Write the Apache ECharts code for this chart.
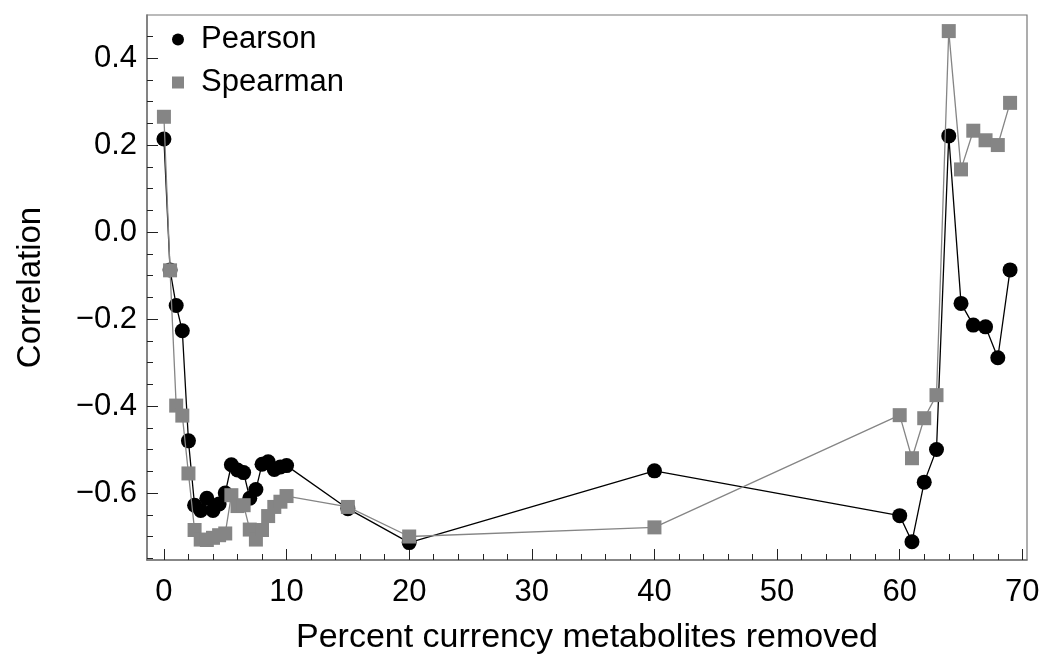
<!DOCTYPE html>
<html>
<head>
<meta charset="utf-8">
<title>Correlation vs percent currency metabolites removed</title>
<script src="https://cdn.jsdelivr.net/npm/echarts@6/dist/echarts.min.js"></script>
<style>
  html, body { margin: 0; padding: 0; background: #fff; }
  #chart { width: 1045px; height: 654px; }
</style>
</head>
<body>
<div id="chart"></div>
<script>
// Percent of currency metabolites removed (shared x values for both series)
const percentRemoved = [0, 0.5, 1, 1.5, 2, 2.5, 3, 3.5, 4, 4.5, 5, 5.5, 6, 6.5, 7, 7.5, 8, 8.5, 9, 9.5, 10,
  15, 20, 40, 60, 61, 62, 63, 64, 65, 66, 67, 68, 69];

// Pearson correlation at each removal level
const pearson = [0.214, -0.087, -0.169, -0.227, -0.480, -0.628, -0.640, -0.612, -0.640, -0.625, -0.600,
  -0.535, -0.547, -0.553, -0.612, -0.592, -0.534, -0.528, -0.546, -0.540, -0.537,
  -0.636, -0.714, -0.549, -0.652, -0.712, -0.575, -0.500, 0.221, -0.164, -0.214, -0.218, -0.289, -0.087];

// Spearman correlation at each removal level
const spearman = [0.265, -0.088, -0.399, -0.422, -0.555, -0.685, -0.707, -0.708, -0.703, -0.697, -0.693,
  -0.605, -0.630, -0.628, -0.684, -0.707, -0.685, -0.653, -0.632, -0.620, -0.607,
  -0.632, -0.700, -0.679, -0.421, -0.520, -0.428, -0.375, 0.462, 0.144, 0.233, 0.211, 0.200, 0.297];

// Axis ticks
const xMajorTicks = [0, 10, 20, 30, 40, 50, 60, 70];
const xMinorTicks = [2, 4, 6, 8, 12, 14, 16, 18, 22, 24, 26, 28, 32, 34, 36, 38, 42, 44, 46, 48,
  52, 54, 56, 58, 62, 64, 66, 68];
const yMajorTicks = [-0.6, -0.4, -0.2, 0, 0.2, 0.4];
const yMinorTicks = [-0.75, -0.7, -0.65, -0.55, -0.5, -0.45, -0.35, -0.3, -0.25, -0.15, -0.1, -0.05,
  0.05, 0.1, 0.15, 0.25, 0.3, 0.35, 0.45];

const X_MIN = -1.38, X_MAX = 70.38;
const Y_MIN = -0.754, Y_MAX = 0.499;

const FONT = '"Liberation Sans", Arial, Helvetica, sans-serif';
const FRAME = '#777777';
const TICK = '#222222';
const GRAY = '#858585';

const pair = (xs, ys) => xs.map((x, i) => [x, ys[i]]);

const chart = echarts.init(document.getElementById('chart'), null, { renderer: 'canvas' });

const minorAxis = (extra) => Object.assign({
  type: 'value',
  axisLine: { show: false, onZero: false },
  axisLabel: { show: false },
  splitLine: { show: false }
}, extra);

chart.setOption({
  animation: false,
  backgroundColor: '#ffffff',
  textStyle: { fontFamily: FONT },
  grid: {
    left: 147, right: 18, top: 15, bottom: 94,
    outerBoundsMode: 'none', containLabel: false,
    show: true, borderColor: FRAME, borderWidth: 1.2, backgroundColor: 'transparent'
  },
  legend: {
    orient: 'vertical',
    left: 167, top: 19,
    itemWidth: 12, itemHeight: 12, itemGap: 12,
    textStyle: { fontFamily: FONT, fontSize: 31, color: '#000', padding: [0, 0, 0, 12] },
    data: [
      { name: 'Pearson', icon: 'circle' },
      { name: 'Spearman', icon: 'rect' }
    ]
  },
  xAxis: [
    {
      type: 'value', min: X_MIN, max: X_MAX,
      name: 'Percent currency metabolites removed',
      nameLocation: 'middle', nameGap: 61,
      nameTextStyle: { fontFamily: FONT, fontSize: 34, color: '#000' },
      axisLine: { show: true, onZero: false, lineStyle: { color: FRAME, width: 1.5 } },
      axisTick: { show: true, inside: true, length: 11, customValues: xMajorTicks, lineStyle: { color: TICK, width: 1 } },
      axisLabel: { show: true, customValues: xMajorTicks, fontSize: 31, color: '#000', margin: 17, fontFamily: FONT,
        formatter: v => String(Math.round(v)) },
      splitLine: { show: false }
    },
    minorAxis({ min: X_MIN, max: X_MAX, position: 'bottom',
      axisTick: { show: true, inside: true, length: 6, customValues: xMinorTicks, lineStyle: { color: TICK, width: 1 } } })
  ],
  yAxis: [
    {
      type: 'value', min: Y_MIN, max: Y_MAX,
      name: 'Correlation',
      nameLocation: 'middle', nameGap: 100, nameRotate: 90,
      nameTextStyle: { fontFamily: FONT, fontSize: 33, color: '#000' },
      axisLine: { show: true, onZero: false, lineStyle: { color: FRAME, width: 1.5 } },
      axisTick: { show: true, inside: true, length: 11, customValues: yMajorTicks, lineStyle: { color: TICK, width: 1 } },
      axisLabel: { show: true, customValues: yMajorTicks, fontSize: 31, color: '#000', margin: 10, fontFamily: FONT,
        formatter: v => (v < 0 ? '\u2212' : '') + Math.abs(v).toFixed(1) },
      splitLine: { show: false }
    },
    minorAxis({ min: Y_MIN, max: Y_MAX, position: 'left',
      axisTick: { show: true, inside: true, length: 6, customValues: yMinorTicks, lineStyle: { color: TICK, width: 1 } } })
  ],
  series: [
    {
      name: 'Pearson', type: 'line', xAxisIndex: 0, yAxisIndex: 0,
      data: pair(percentRemoved, pearson),
      symbol: 'circle', symbolSize: 15,
      itemStyle: { color: '#000000' },
      lineStyle: { color: '#000000', width: 1.3 },
      z: 2
    },
    {
      name: 'Spearman', type: 'line', xAxisIndex: 0, yAxisIndex: 0,
      data: pair(percentRemoved, spearman),
      symbol: 'rect', symbolSize: 14,
      itemStyle: { color: GRAY },
      lineStyle: { color: GRAY, width: 1.3 },
      z: 3
    }
  ]
});
</script>
</body>
</html>
